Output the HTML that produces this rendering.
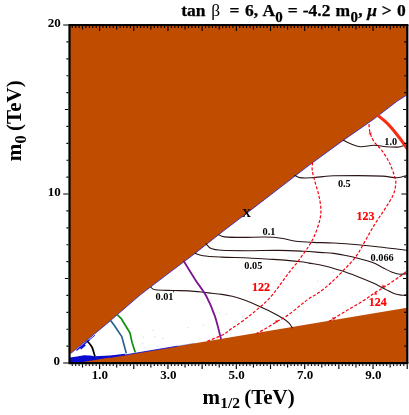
<!DOCTYPE html>
<html><head><meta charset="utf-8"><title>plot</title>
<style>html,body{margin:0;padding:0;background:#fff;overflow:hidden}body{width:409px;height:415px;position:relative;font-family:"Liberation Serif",serif}</style>
</head><body>
<svg width="409" height="415" viewBox="0 0 409 415" style="position:absolute;left:0;top:0;will-change:transform;opacity:0.999">
<rect width="409" height="415" fill="#fff"/>
<clipPath id="c"><rect x="69.5" y="25.0" width="337.8" height="338.1"/></clipPath>
<g clip-path="url(#c)">
<path d="M70.0,357.6 L77.0,356.4 L84.0,355.2 L90.0,355.6 L94.3,356.2 L110.0,355.6 L125.0,353.8 L125.0,356.0 L80.0,363.0 L70.0,363.0Z" fill="#0a0ad0"/>
<path d="M69.5,25.0 L407.3,25.0 L406.8,95.1 L397.4,101.0 L372.9,119.8 L343.2,140.4 L309.0,165.3 L250.1,210.7 L223.1,231.2 L195.0,253.4 L165.0,276.0 L140.0,295.1 L105.4,325.0 L70.6,353.6 L69.5,354.5Z" fill="#C04C00"/>
<path d="M80.0,362.5 L407.0,307.8 L407.3,363.1 L80.0,363.1Z" fill="#C04C00"/>
<path d="M70.6,353.6 L105.4,325.0 L140.0,295.1 L165.0,276.0 L195.0,253.4 L223.1,231.2 L250.1,210.7 L309.0,165.3 L343.2,140.4 L372.9,119.8 L397.4,101.0 L406.8,95.1" fill="none" stroke="#2424d8" stroke-width="0.8"/>
<path d="M110.0,357.5 L178.0,346.1" fill="none" stroke="#1010d8" stroke-width="0.9"/>
<path d="M178.0,346.1 L194.0,343.4" fill="none" stroke="#1010d8" stroke-width="0.6" opacity="0.5"/>
<path d="M76.4,350.6 L89.5,339.8" stroke="#1010d8" stroke-width="1.3" fill="none"/>
<path d="M79.6,347.8 L84.6,343.7 L85.8,345.6 L81.2,349.4Z" fill="#1010d8"/>
<path d="M89,340.2 L95,335.2" stroke="#1010d8" stroke-width="0.9" fill="none"/>
<path d="M343.4,140.3 C344.5,140.8 347.2,142.4 350.0,143.5 C352.8,144.6 356.3,146.4 360.3,146.7 C364.3,147.0 369.8,145.3 374.0,145.3 C378.2,145.3 381.9,146.4 385.8,146.7 C389.7,147.0 394.4,147.3 397.5,147.1 C400.6,146.8 402.8,145.8 404.3,145.2 C405.8,144.5 406.1,143.5 406.5,143.2" fill="none" stroke="#2a1414" stroke-width="1.1" stroke-linecap="round" stroke-linejoin="round" />
<path d="M294.8,175.2 C295.6,175.6 297.1,177.2 299.7,177.6 C302.3,178.0 306.8,178.0 310.7,177.8 C314.6,177.6 319.1,176.9 322.9,176.6 C326.7,176.3 327.6,176.0 333.4,175.8 C339.2,175.6 349.8,175.6 357.9,175.6 C366.0,175.6 375.8,175.7 382.3,176.1 C388.8,176.5 393.0,177.9 397.0,177.8 C401.0,177.7 404.9,176.0 406.5,175.6" fill="none" stroke="#2a1414" stroke-width="1.1" stroke-linecap="round" stroke-linejoin="round" />
<path d="M218.7,234.7 C219.7,235.1 220.5,236.4 224.6,236.9 C228.7,237.4 236.7,237.4 243.4,237.4 C250.1,237.4 258.6,236.9 264.9,237.0 C271.2,237.1 276.1,237.5 281.3,238.2 C286.5,238.9 290.7,240.5 296.0,241.2 C301.3,241.9 306.9,242.1 313.1,242.4 C319.3,242.7 325.9,242.6 333.4,243.0 C340.9,243.4 349.8,244.0 357.9,244.7 C366.0,245.4 374.2,246.3 382.3,247.2 C390.4,248.1 402.5,249.8 406.5,250.3" fill="none" stroke="#2a1414" stroke-width="1.1" stroke-linecap="round" stroke-linejoin="round" />
<path d="M205.8,243.6 C206.7,244.4 208.4,247.4 211.1,248.5 C213.8,249.6 215.6,249.9 221.9,250.3 C228.2,250.7 239.3,250.7 248.8,250.7 C258.3,250.7 269.8,250.3 278.9,250.4 C288.0,250.5 296.4,250.9 303.3,251.2 C310.2,251.5 315.0,252.0 320.0,252.4 C325.0,252.8 329.1,252.9 333.4,253.4 C337.7,253.9 341.6,254.7 345.7,255.5 C349.8,256.3 353.4,257.1 357.9,258.3 C362.4,259.5 368.5,261.1 372.6,262.6 C376.7,264.1 379.1,265.8 382.3,267.4 C385.6,269.0 389.2,271.2 392.1,272.3 C395.0,273.4 397.1,274.0 399.5,274.2 C401.9,274.4 405.3,273.8 406.5,273.7" fill="none" stroke="#2a1414" stroke-width="1.1" stroke-linecap="round" stroke-linejoin="round" />
<path d="M195.0,253.2 C196.3,253.6 198.6,255.0 203.1,255.7 C207.6,256.4 214.3,256.7 221.9,257.1 C229.5,257.5 240.9,257.6 248.8,258.0 C256.7,258.4 263.7,258.9 269.1,259.2 C274.5,259.5 275.8,259.5 281.1,259.9 C286.4,260.3 296.1,261.3 300.7,261.8 C305.3,262.3 305.2,262.5 309.0,263.1 C312.8,263.8 318.4,264.4 323.7,265.7 C329.0,266.9 335.1,268.8 340.8,270.6 C346.5,272.4 352.6,274.7 357.9,276.7 C363.2,278.7 368.1,280.8 372.6,282.8 C377.1,284.8 381.1,287.1 384.8,288.9 C388.5,290.7 391.8,292.8 394.6,293.8 C397.5,294.9 399.9,295.0 401.9,295.2 C403.9,295.4 405.7,295.0 406.5,295.0" fill="none" stroke="#2a1414" stroke-width="1.1" stroke-linecap="round" stroke-linejoin="round" />
<path d="M150.9,287.2 C151.6,287.6 151.6,289.2 155.3,289.8 C159.0,290.4 167.3,290.3 172.9,290.5 C178.5,290.7 183.9,290.6 189.0,290.9 C194.1,291.2 199.9,291.9 203.7,292.3 C207.5,292.7 209.0,293.0 212.0,293.3 C215.0,293.6 218.5,293.9 221.9,294.4 C225.3,294.9 228.4,295.4 232.2,296.3 C235.9,297.2 239.9,298.5 244.4,300.1 C248.9,301.8 254.6,304.2 259.1,306.2 C263.6,308.2 267.2,309.8 271.3,311.9 C275.4,314.0 280.6,316.8 283.6,318.7 C286.6,320.6 287.9,321.9 289.3,323.4 C290.7,324.9 291.7,327.1 292.2,327.8" fill="none" stroke="#2a1414" stroke-width="1.1" stroke-linecap="round" stroke-linejoin="round" />
<path d="M87.5,341.3 C88.2,342.2 90.7,344.6 91.9,347.0 C93.1,349.4 94.3,354.3 94.8,355.8" fill="none" stroke="#000" stroke-width="1.7" stroke-linecap="round" stroke-linejoin="round" />
<path d="M110.4,320.2 L114.2,325.2 L121.8,336.6 L124.0,344.7 L126.3,353.4" fill="none" stroke="#2a6090" stroke-width="1.7" stroke-linejoin="round"/>
<path d="M116.9,314.3 L121.3,318.7 L129.9,332.8 L132.1,342.5 L135.3,352.6" fill="none" stroke="#109010" stroke-width="1.7" stroke-linejoin="round"/>
<path d="M183.8,261.3 C185.7,264.4 191.6,274.0 195.4,279.9 C199.2,285.8 203.3,290.5 206.5,296.5 C209.7,302.5 212.4,308.9 214.8,315.9 C217.2,322.9 219.9,334.7 220.9,338.5" fill="none" stroke="#7b1690" stroke-width="1.8" stroke-linecap="round" stroke-linejoin="round" />
<path d="M378.5,116.0 C379.5,116.8 382.7,119.2 384.6,120.9 C386.5,122.6 388.4,124.4 390.0,126.2 C391.6,128.0 392.8,129.4 394.5,131.5 C396.2,133.6 397.9,135.8 400.0,138.5 C402.1,141.2 405.7,146.4 406.8,148.0" fill="none" stroke="#f82c10" stroke-width="3.1" stroke-linecap="round" stroke-linejoin="round" />
<path d="M368.9,124.2 C369.1,125.6 369.3,130.0 370.1,132.8 C370.9,135.7 371.8,138.2 373.8,141.3 C375.8,144.4 379.7,147.4 382.3,151.1 C384.9,154.8 387.7,159.2 389.7,163.3 C391.7,167.4 393.3,172.3 394.3,175.6 C395.3,178.9 396.0,179.9 395.8,183.0 C395.6,186.1 395.2,190.1 393.4,194.4 C391.6,198.8 387.9,204.2 384.8,209.1 C381.7,214.0 378.3,218.5 375.0,223.8 C371.7,229.1 368.4,235.3 365.2,240.9 C361.9,246.5 359.2,252.2 355.5,257.1 C351.8,262.1 347.3,266.3 343.2,270.6 C339.1,274.9 335.1,279.1 331.0,282.8 C326.9,286.5 322.5,290.0 318.8,292.6 C315.1,295.2 312.0,296.6 309.0,298.7 C306.0,300.8 304.1,302.3 300.7,305.0 C297.3,307.7 292.6,311.9 288.5,314.8 C284.4,317.7 280.3,319.7 276.2,322.1 C272.1,324.6 267.2,327.6 264.0,329.5 C260.8,331.4 257.9,332.8 256.7,333.4" fill="none" stroke="#f80010" stroke-width="1.2" stroke-linecap="butt" stroke-linejoin="round" stroke-dasharray="3.1 1.8"/>
<path d="M312.6,162.5 C312.5,163.8 311.9,167.2 312.2,170.0 C312.5,172.8 313.3,175.6 314.4,179.6 C315.4,183.6 317.4,189.3 318.5,194.2 C319.6,199.1 320.7,204.4 320.9,208.9 C321.1,213.4 320.6,216.6 319.5,221.1 C318.4,225.6 316.3,231.5 314.4,235.8 C312.5,240.1 310.9,242.8 308.2,247.0 C305.5,251.2 301.5,256.6 298.2,261.0 C294.9,265.4 291.8,268.9 288.5,273.2 C285.2,277.5 282.0,282.4 278.7,286.7 C275.4,291.0 272.6,295.0 268.9,298.9 C265.2,302.8 260.8,306.4 256.7,309.9 C252.6,313.4 248.5,316.6 244.4,319.7 C240.3,322.8 235.9,325.6 232.2,328.2 C228.5,330.8 226.6,332.8 222.4,335.0 C218.2,337.2 209.6,340.2 207.0,341.3" fill="none" stroke="#f80010" stroke-width="1.2" stroke-linecap="butt" stroke-linejoin="round" stroke-dasharray="3.1 1.8"/>
<path d="M405.8,271.8 C404.8,272.6 402.6,274.5 399.5,276.7 C396.4,278.9 391.3,282.5 387.2,285.2 C383.1,287.9 379.1,290.0 375.0,292.6 C370.9,295.2 367.3,298.2 362.8,301.1 C358.3,304.0 353.0,306.8 348.1,309.7 C343.2,312.6 336.6,316.8 333.4,318.7 C330.2,320.6 329.7,320.8 329.0,321.2" fill="none" stroke="#f80010" stroke-width="1.2" stroke-linecap="butt" stroke-linejoin="round" stroke-dasharray="3.1 1.8"/>
<path d="M381.8,286.9 l3,-1.2 M382.7,284.8 l1.2,3" stroke="#f01010" stroke-width="1" fill="none"/>
<path d="M374.1,294.2 l3,-1.2 M375.0,292.1 l1.2,3" stroke="#f01010" stroke-width="1" fill="none"/>
<path d="M332.0,319.1 l3,-1.2 M332.9,317.0 l1.2,3" stroke="#f01010" stroke-width="1" fill="none"/>
<path d="M275.0,322.1 l3,-1.2 M275.9,320.0 l1.2,3" stroke="#f01010" stroke-width="1" fill="none"/>
<path d="M368.8,134.1 l3,-1.2 M369.7,132.0 l1.2,3" stroke="#f01010" stroke-width="1" fill="none"/>
<circle cx="187.8" cy="327.5" r="0.55" fill="#6a6af0" opacity="0.4"/>
<circle cx="203.6" cy="325.0" r="0.55" fill="#6a6af0" opacity="0.4"/>
<circle cx="226.3" cy="314.0" r="0.55" fill="#6a6af0" opacity="0.4"/>
<circle cx="242.8" cy="316.5" r="0.55" fill="#6a6af0" opacity="0.4"/>
<circle cx="154.8" cy="336.7" r="0.55" fill="#6a6af0" opacity="0.4"/>
<circle cx="142.7" cy="343.3" r="0.55" fill="#6a6af0" opacity="0.4"/>
<circle cx="145.0" cy="347.7" r="0.55" fill="#6a6af0" opacity="0.4"/>
<circle cx="143.5" cy="337.0" r="0.55" fill="#6a6af0" opacity="0.4"/>
<circle cx="153.0" cy="330.5" r="0.55" fill="#6a6af0" opacity="0.4"/>
<circle cx="158.0" cy="346.5" r="0.55" fill="#6a6af0" opacity="0.4"/>
<circle cx="163.0" cy="338.5" r="0.55" fill="#6a6af0" opacity="0.4"/>
<circle cx="381.0" cy="263.0" r="0.55" fill="#6a6af0" opacity="0.4"/>
<circle cx="333.0" cy="272.0" r="0.55" fill="#6a6af0" opacity="0.4"/>
<circle cx="352.0" cy="296.0" r="0.55" fill="#6a6af0" opacity="0.4"/>
<circle cx="318.0" cy="281.0" r="0.55" fill="#6a6af0" opacity="0.4"/>
<circle cx="404.0" cy="268.0" r="0.55" fill="#6a6af0" opacity="0.4"/>
</g>
<g stroke="#000" fill="none">
<path d="M68.4,25.0 H408.4 M68.4,363.1 H408.4" stroke-width="2.2"/>
<path d="M69.5,25.0 V363.1 M407.3,25.0 V363.1" stroke-width="2.2"/>
<path d="M72.26,26.1 v1.9 M72.26,364.2 v1.9 M75.67,26.1 v1.9 M75.67,364.2 v1.9 M79.09,26.1 v1.9 M79.09,364.2 v1.9 M82.51,26.1 v3.3 M82.51,364.2 v3.3 M85.93,26.1 v1.9 M85.93,364.2 v1.9 M89.35,26.1 v1.9 M89.35,364.2 v1.9 M92.76,26.1 v1.9 M92.76,364.2 v1.9 M96.18,26.1 v1.9 M96.18,364.2 v1.9 M99.60,26.1 v4.8 M99.60,364.2 v4.8 M103.02,26.1 v1.9 M103.02,364.2 v1.9 M106.44,26.1 v1.9 M106.44,364.2 v1.9 M109.85,26.1 v1.9 M109.85,364.2 v1.9 M113.27,26.1 v1.9 M113.27,364.2 v1.9 M116.69,26.1 v3.3 M116.69,364.2 v3.3 M120.11,26.1 v1.9 M120.11,364.2 v1.9 M123.53,26.1 v1.9 M123.53,364.2 v1.9 M126.94,26.1 v1.9 M126.94,364.2 v1.9 M130.36,26.1 v1.9 M130.36,364.2 v1.9 M133.78,26.1 v4.8 M133.78,364.2 v4.8 M137.20,26.1 v1.9 M137.20,364.2 v1.9 M140.62,26.1 v1.9 M140.62,364.2 v1.9 M144.03,26.1 v1.9 M144.03,364.2 v1.9 M147.45,26.1 v1.9 M147.45,364.2 v1.9 M150.87,26.1 v3.3 M150.87,364.2 v3.3 M154.29,26.1 v1.9 M154.29,364.2 v1.9 M157.71,26.1 v1.9 M157.71,364.2 v1.9 M161.12,26.1 v1.9 M161.12,364.2 v1.9 M164.54,26.1 v1.9 M164.54,364.2 v1.9 M167.96,26.1 v4.8 M167.96,364.2 v4.8 M171.38,26.1 v1.9 M171.38,364.2 v1.9 M174.80,26.1 v1.9 M174.80,364.2 v1.9 M178.21,26.1 v1.9 M178.21,364.2 v1.9 M181.63,26.1 v1.9 M181.63,364.2 v1.9 M185.05,26.1 v3.3 M185.05,364.2 v3.3 M188.47,26.1 v1.9 M188.47,364.2 v1.9 M191.89,26.1 v1.9 M191.89,364.2 v1.9 M195.30,26.1 v1.9 M195.30,364.2 v1.9 M198.72,26.1 v1.9 M198.72,364.2 v1.9 M202.14,26.1 v4.8 M202.14,364.2 v4.8 M205.56,26.1 v1.9 M205.56,364.2 v1.9 M208.98,26.1 v1.9 M208.98,364.2 v1.9 M212.39,26.1 v1.9 M212.39,364.2 v1.9 M215.81,26.1 v1.9 M215.81,364.2 v1.9 M219.23,26.1 v3.3 M219.23,364.2 v3.3 M222.65,26.1 v1.9 M222.65,364.2 v1.9 M226.07,26.1 v1.9 M226.07,364.2 v1.9 M229.48,26.1 v1.9 M229.48,364.2 v1.9 M232.90,26.1 v1.9 M232.90,364.2 v1.9 M236.32,26.1 v4.8 M236.32,364.2 v4.8 M239.74,26.1 v1.9 M239.74,364.2 v1.9 M243.16,26.1 v1.9 M243.16,364.2 v1.9 M246.57,26.1 v1.9 M246.57,364.2 v1.9 M249.99,26.1 v1.9 M249.99,364.2 v1.9 M253.41,26.1 v3.3 M253.41,364.2 v3.3 M256.83,26.1 v1.9 M256.83,364.2 v1.9 M260.25,26.1 v1.9 M260.25,364.2 v1.9 M263.66,26.1 v1.9 M263.66,364.2 v1.9 M267.08,26.1 v1.9 M267.08,364.2 v1.9 M270.50,26.1 v4.8 M270.50,364.2 v4.8 M273.92,26.1 v1.9 M273.92,364.2 v1.9 M277.34,26.1 v1.9 M277.34,364.2 v1.9 M280.75,26.1 v1.9 M280.75,364.2 v1.9 M284.17,26.1 v1.9 M284.17,364.2 v1.9 M287.59,26.1 v3.3 M287.59,364.2 v3.3 M291.01,26.1 v1.9 M291.01,364.2 v1.9 M294.43,26.1 v1.9 M294.43,364.2 v1.9 M297.84,26.1 v1.9 M297.84,364.2 v1.9 M301.26,26.1 v1.9 M301.26,364.2 v1.9 M304.68,26.1 v4.8 M304.68,364.2 v4.8 M308.10,26.1 v1.9 M308.10,364.2 v1.9 M311.52,26.1 v1.9 M311.52,364.2 v1.9 M314.93,26.1 v1.9 M314.93,364.2 v1.9 M318.35,26.1 v1.9 M318.35,364.2 v1.9 M321.77,26.1 v3.3 M321.77,364.2 v3.3 M325.19,26.1 v1.9 M325.19,364.2 v1.9 M328.61,26.1 v1.9 M328.61,364.2 v1.9 M332.02,26.1 v1.9 M332.02,364.2 v1.9 M335.44,26.1 v1.9 M335.44,364.2 v1.9 M338.86,26.1 v4.8 M338.86,364.2 v4.8 M342.28,26.1 v1.9 M342.28,364.2 v1.9 M345.70,26.1 v1.9 M345.70,364.2 v1.9 M349.11,26.1 v1.9 M349.11,364.2 v1.9 M352.53,26.1 v1.9 M352.53,364.2 v1.9 M355.95,26.1 v3.3 M355.95,364.2 v3.3 M359.37,26.1 v1.9 M359.37,364.2 v1.9 M362.79,26.1 v1.9 M362.79,364.2 v1.9 M366.20,26.1 v1.9 M366.20,364.2 v1.9 M369.62,26.1 v1.9 M369.62,364.2 v1.9 M373.04,26.1 v4.8 M373.04,364.2 v4.8 M376.46,26.1 v1.9 M376.46,364.2 v1.9 M379.88,26.1 v1.9 M379.88,364.2 v1.9 M383.29,26.1 v1.9 M383.29,364.2 v1.9 M386.71,26.1 v1.9 M386.71,364.2 v1.9 M390.13,26.1 v3.3 M390.13,364.2 v3.3 M393.55,26.1 v1.9 M393.55,364.2 v1.9 M396.97,26.1 v1.9 M396.97,364.2 v1.9 M400.38,26.1 v1.9 M400.38,364.2 v1.9 M403.80,26.1 v1.9 M403.80,364.2 v1.9 M407.22,26.1 v4.8 M407.22,364.2 v4.8 M68.4,363.00 h-5.2 M406.2,363.00 h-4.8 M68.4,346.10 h-2.0 M406.2,346.10 h-2.0 M68.4,329.20 h-2.0 M406.2,329.20 h-2.0 M68.4,312.30 h-2.0 M406.2,312.30 h-2.0 M68.4,295.40 h-2.0 M406.2,295.40 h-2.0 M68.4,278.50 h-3.5 M406.2,278.50 h-3.2 M68.4,261.60 h-2.0 M406.2,261.60 h-2.0 M68.4,244.70 h-2.0 M406.2,244.70 h-2.0 M68.4,227.80 h-2.0 M406.2,227.80 h-2.0 M68.4,210.90 h-2.0 M406.2,210.90 h-2.0 M68.4,194.00 h-5.2 M406.2,194.00 h-4.8 M68.4,177.10 h-2.0 M406.2,177.10 h-2.0 M68.4,160.20 h-2.0 M406.2,160.20 h-2.0 M68.4,143.30 h-2.0 M406.2,143.30 h-2.0 M68.4,126.40 h-2.0 M406.2,126.40 h-2.0 M68.4,109.50 h-3.5 M406.2,109.50 h-3.2 M68.4,92.60 h-2.0 M406.2,92.60 h-2.0 M68.4,75.70 h-2.0 M406.2,75.70 h-2.0 M68.4,58.80 h-2.0 M406.2,58.80 h-2.0 M68.4,41.90 h-2.0 M406.2,41.90 h-2.0 M68.4,25.00 h-5.2 M406.2,25.00 h-4.8" stroke-width="1.15"/>
</g>
<text x="60.8" y="27.4" font-size="13" text-anchor="end" fill="#000" font-family="Liberation Serif, serif" font-weight="bold" >20</text>
<text x="60.8" y="196.1" font-size="13" text-anchor="end" fill="#000" font-family="Liberation Serif, serif" font-weight="bold" >10</text>
<text x="60.1" y="365.4" font-size="13" text-anchor="end" fill="#000" font-family="Liberation Serif, serif" font-weight="bold" >0</text>
<text x="99.9" y="379.3" font-size="13" text-anchor="middle" fill="#000" font-family="Liberation Serif, serif" font-weight="bold" >1.0</text>
<text x="168.3" y="379.3" font-size="13" text-anchor="middle" fill="#000" font-family="Liberation Serif, serif" font-weight="bold" >3.0</text>
<text x="236.6" y="379.3" font-size="13" text-anchor="middle" fill="#000" font-family="Liberation Serif, serif" font-weight="bold" >5.0</text>
<text x="305.0" y="379.3" font-size="13" text-anchor="middle" fill="#000" font-family="Liberation Serif, serif" font-weight="bold" >7.0</text>
<text x="373.3" y="379.3" font-size="13" text-anchor="middle" fill="#000" font-family="Liberation Serif, serif" font-weight="bold" >9.0</text>
<text x="384.3" y="145.0" font-size="10.3" text-anchor="start" fill="#000" font-family="Liberation Serif, serif" font-weight="bold" >1.0</text>
<text x="337.9" y="186.6" font-size="10.3" text-anchor="start" fill="#000" font-family="Liberation Serif, serif" font-weight="bold" >0.5</text>
<text x="262.5" y="235.0" font-size="10.3" text-anchor="start" fill="#000" font-family="Liberation Serif, serif" font-weight="bold" >0.1</text>
<text x="370.6" y="261.2" font-size="10.3" text-anchor="start" fill="#000" font-family="Liberation Serif, serif" font-weight="bold" >0.066</text>
<text x="244.3" y="268.9" font-size="10.3" text-anchor="start" fill="#000" font-family="Liberation Serif, serif" font-weight="bold" >0.05</text>
<text x="155.5" y="300.2" font-size="10.3" text-anchor="start" fill="#000" font-family="Liberation Serif, serif" font-weight="bold" >0.01</text>
<path d="M173.6,290.6 V292.4" stroke="#2a1414" stroke-width="0.8"/>
<text transform="translate(356.5,220.3) scale(0.95,1)" font-size="12.6" fill="#ff0000" stroke="#ff0000" stroke-width="0.2" font-family="Liberation Serif, serif" font-weight="bold">123</text>
<text transform="translate(252.1,291.2) scale(0.95,1)" font-size="12.6" fill="#ff0000" stroke="#ff0000" stroke-width="0.2" font-family="Liberation Serif, serif" font-weight="bold">122</text>
<text transform="translate(368.8,305.7) scale(0.95,1)" font-size="12.6" fill="#ff0000" stroke="#ff0000" stroke-width="0.2" font-family="Liberation Serif, serif" font-weight="bold">124</text>
<text x="246.5" y="217.1" font-size="12.6" text-anchor="middle" fill="#000" font-family="Liberation Serif, serif" font-weight="bold" >X</text>
<text x="181.3" y="16.3" font-size="17.5" stroke="#000" stroke-width="0.25" font-family="Liberation Serif, serif" font-weight="bold" >tan</text>
<text x="211.2" y="16.3" font-size="17.5" font-family="Liberation Serif, serif">β</text>
<text x="229.5" y="16.3" font-size="17.5" stroke="#000" stroke-width="0.25" font-family="Liberation Serif, serif" font-weight="bold" >=</text>
<text x="245.0" y="16.3" font-size="17.5" stroke="#000" stroke-width="0.25" font-family="Liberation Serif, serif" font-weight="bold" >6,</text>
<text x="262.5" y="16.3" font-size="17.5" stroke="#000" stroke-width="0.25" font-family="Liberation Serif, serif" font-weight="bold" >A</text>
<text x="275.3" y="21.5" font-size="15" stroke="#000" stroke-width="0.25" font-family="Liberation Serif, serif" font-weight="bold" >0</text>
<text x="287.8" y="16.3" font-size="17.5" stroke="#000" stroke-width="0.25" font-family="Liberation Serif, serif" font-weight="bold" >=</text>
<text x="302.7" y="16.3" font-size="17.5" stroke="#000" stroke-width="0.25" font-family="Liberation Serif, serif" font-weight="bold" >-4.2</text>
<text x="335.5" y="16.3" font-size="17.5" stroke="#000" stroke-width="0.25" font-family="Liberation Serif, serif" font-weight="bold" >m</text>
<text x="350.4" y="21.5" font-size="15" stroke="#000" stroke-width="0.25" font-family="Liberation Serif, serif" font-weight="bold" >0</text>
<text x="358.3" y="16.3" font-size="17.5" stroke="#000" stroke-width="0.25" font-family="Liberation Serif, serif" font-weight="bold" >,</text>
<text x="367.2" y="16.3" font-size="17.5" stroke="#000" stroke-width="0.25" font-family="Liberation Serif, serif" font-weight="bold" font-style="italic">μ</text>
<text x="381.8" y="16.3" font-size="17.5" stroke="#000" stroke-width="0.25" font-family="Liberation Serif, serif" font-weight="bold" >&gt;</text>
<text x="397.1" y="16.3" font-size="17.5" stroke="#000" stroke-width="0.25" font-family="Liberation Serif, serif" font-weight="bold" >0</text>
<text x="202.4" y="403.5" font-size="21" font-family="Liberation Serif, serif" font-weight="bold">m<tspan font-size="15.5" dy="4.8" dx="0.4">1/2</tspan><tspan dy="-4.8" dx="-1.2"> (TeV)</tspan></text>
<text transform="translate(20.6,161.2) rotate(-90)" font-size="21" font-family="Liberation Serif, serif" font-weight="bold">m<tspan font-size="16.5" dy="4.9" dx="0.3">0</tspan><tspan dy="-4.9" dx="-1.0"> (TeV)</tspan></text>
</svg>
</body></html>
